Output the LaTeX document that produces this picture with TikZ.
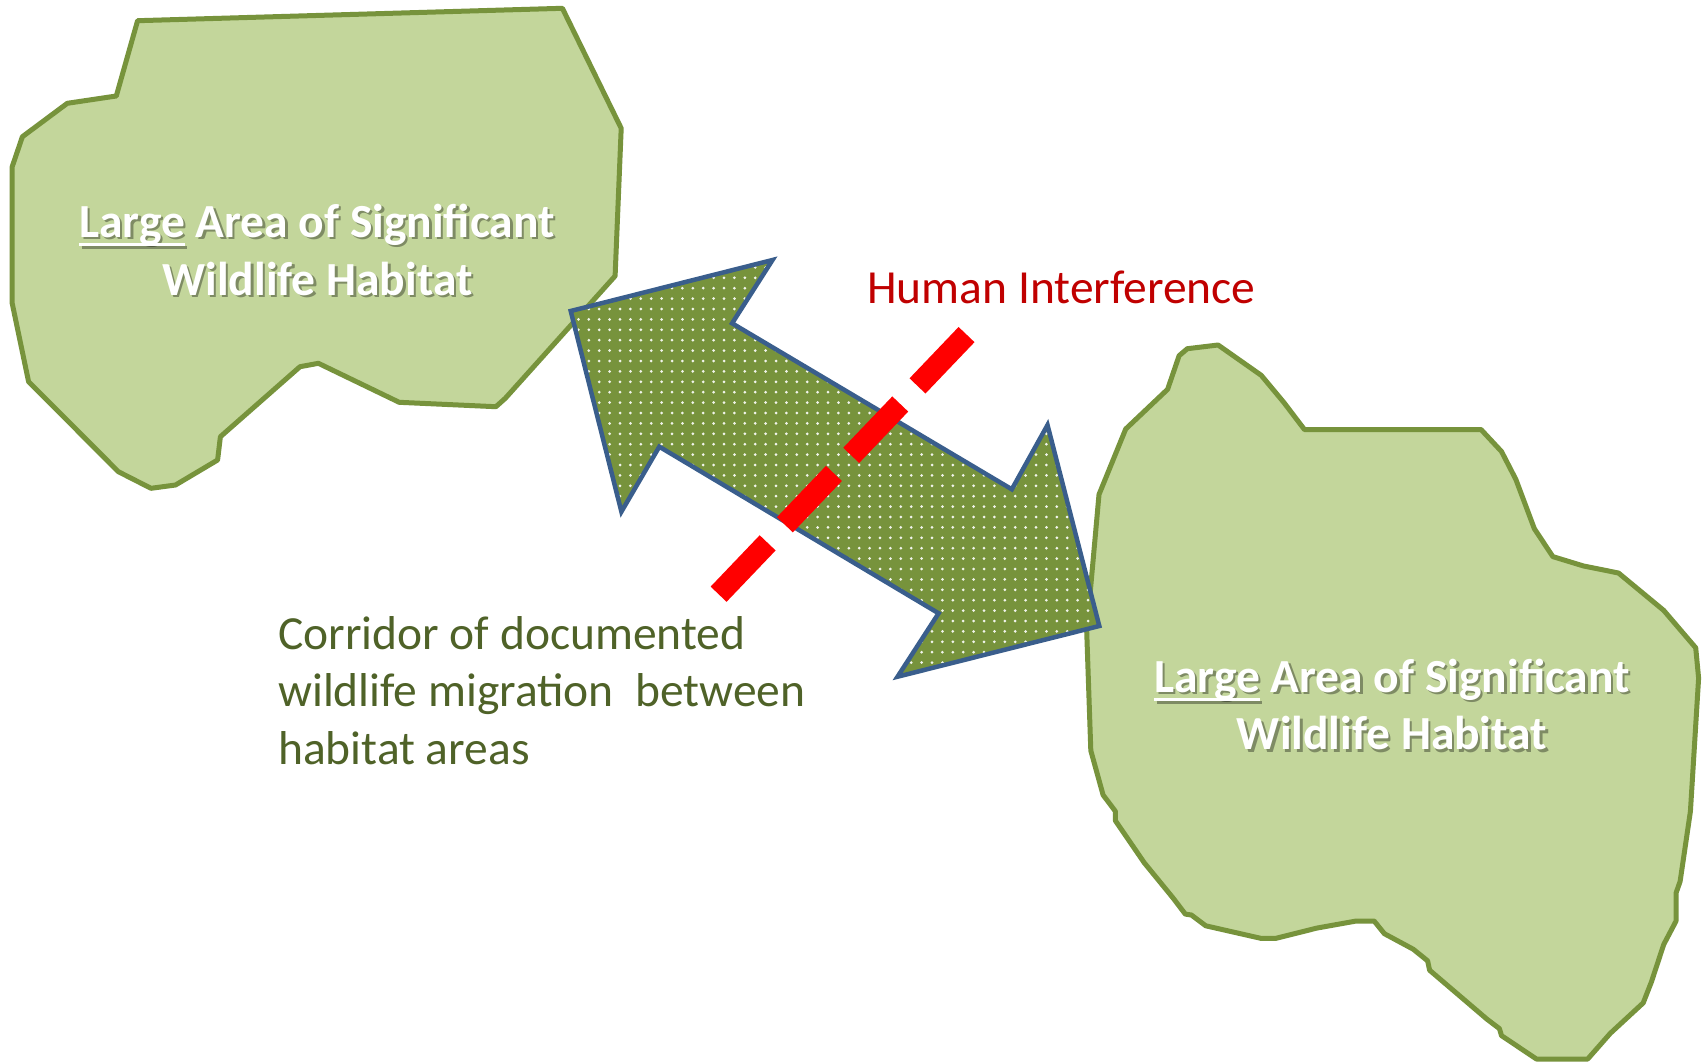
\documentclass[tikz,border=0pt]{standalone}
\usepackage{fontspec}
\setmainfont{Carlito}[BoldFont={Carlito Bold}]
\definecolor{habfill}{HTML}{C3D69B}
\definecolor{habline}{HTML}{77933C}
\definecolor{arrfill}{HTML}{77933C}
\definecolor{arrline}{HTML}{3A5E8C}
\definecolor{hired}{HTML}{C00000}
\definecolor{cortext}{HTML}{4F6228}
\definecolor{dashred}{HTML}{FF0000}
\newsavebox\ulbox
\newcommand\myul[1]{\sbox\ulbox{#1}\rlap{\rule[-9pt]{\wd\ulbox}{3pt}}\usebox\ulbox}
\tikzset{
  habitat/.style={fill=habfill, draw=habline, line width=5pt, line join=round},
  corridor/.style={draw=arrline, line width=4.5pt, line join=miter},
  dotmark/.style={fill=white, fill opacity=0.9},
  interf/.style={draw=dashred, line width=22pt, dash pattern=on 71pt off 25pt},
  bigtext/.style={inner sep=0pt, font=\fontsize{47.5}{57}\selectfont},
  habtext/.style={inner sep=0pt, anchor=base, text=white, font=\fontsize{47.5}{57}\selectfont\bfseries},
  habshadow/.style={habtext, text=black, text opacity=0.35},
  redtext/.style={bigtext, anchor=base west, text=hired},
  cortextstyle/.style={bigtext, anchor=base west, text=cortext}
}
\begin{document}
\begin{tikzpicture}[x=1pt, y=-1pt]
\useasboundingbox (0,0) rectangle (1704,1063);
\fill[white] (0,0) rectangle (1704,1063);

% left habitat
\draw[habitat] (137.6,20.7) -- (562.4,8.3) -- (621.2,128.3) -- (615.1,276) -- (505.3,398.3)
  -- (495.9,406.7) -- (399.2,402.3) -- (318.4,363.3) -- (300,366.7) -- (220.4,436.7)
  -- (217.6,460) -- (175.5,485) -- (151,488.3) -- (118.4,471.7) -- (28.6,381.7)
  -- (12.2,303.3) -- (12.2,166.7) -- (22.4,136.7) -- (67.3,103.3) -- (116.3,96) -- cycle;

% right habitat
\draw[habitat] (1218.1,345) -- (1187.3,348.7) -- (1179.1,355.7) -- (1167.6,389.3)
  -- (1125.7,429) -- (1099,494.5) -- (1086.7,631.4) -- (1090.8,750.6) -- (1103.1,795)
  -- (1115.4,811.3) -- (1115.4,820.7) -- (1144.2,862.7) -- (1172.9,897.8) -- (1185.3,914.1)
  -- (1191.4,915) -- (1205.8,925.8) -- (1261.2,938.4) -- (1275.6,938.4) -- (1316.7,928.1)
  -- (1355.7,921.1) -- (1374.2,921.1) -- (1384.4,933.7) -- (1413.2,949.2) -- (1427.6,960.8)
  -- (1429.6,970.2) -- (1487.1,1019.3) -- (1499.4,1028.6) -- (1501.5,1035.6) -- (1536.4,1059)
  -- (1587.7,1059) -- (1610.3,1033.3) -- (1643.2,1002.9) -- (1651.4,981.9) -- (1663.7,944.5)
  -- (1676,921.1) -- (1676,893.1) -- (1680.1,881.4) -- (1690.4,811.3) -- (1698.6,678.1)
  -- (1695.7,647.8) -- (1663.7,610.4) -- (1618.5,573) -- (1583.6,566) -- (1552.8,556.6)
  -- (1534.3,528.6) -- (1515.9,479.5) -- (1501.5,451.5) -- (1481,429.5) -- (1304.4,429.5)
  -- (1283.8,402.4) -- (1261.2,375.3) -- cycle;

% habitat labels
\node[habshadow] (lt1s) at (319.5,239.5) {\myul{Large} Area of Significant};
\node[habshadow] (lt2s) at (320,297.5) {Wildlife Habitat};
\node[habtext] (lt1) at (317,237) {\myul{Large} Area of Significant};
\node[habtext] (lt2) at (317.5,295) {Wildlife Habitat};
\node[habshadow] (rt1s) at (1394.5,694.5) {\myul{Large} Area of Significant};
\node[habshadow] (rt2s) at (1394.5,752) {Wildlife Habitat};
\node[habtext] (rt1) at (1392,692) {\myul{Large} Area of Significant};
\node[habtext] (rt2) at (1392,749.5) {Wildlife Habitat};

% corridor arrow
\coordinate (p1) at (570.7,311);
\coordinate (p2) at (772.5,260);
\coordinate (p3) at (732.1,323.3);
\coordinate (p4) at (1011.8,489.3);
\coordinate (p5) at (1047.5,425);
\coordinate (p6) at (1099.3,626);
\coordinate (p7) at (897.5,676.7);
\coordinate (p8) at (938.6,613.3);
\coordinate (p9) at (659.3,446.7);
\coordinate (p10) at (621.4,511.7);
\fill[arrfill] (p1) -- (p2) -- (p3) -- (p4) -- (p5) -- (p6) -- (p7) -- (p8) -- (p9) -- (p10) -- cycle;
\begin{scope}
\clip (p1) -- (p2) -- (p3) -- (p4) -- (p5) -- (p6) -- (p7) -- (p8) -- (p9) -- (p10) -- cycle;
\foreach \i in {0,...,52} {
  \foreach \j in {0,...,40} {
    \fill[dotmark] ({568+\i*10.4}, {257+\j*10.4}) circle [radius=1.5pt];
  }
}
\end{scope}
\draw[corridor] (p1) -- (p2) -- (p3) -- (p4) -- (p5) -- (p6) -- (p7) -- (p8) -- (p9) -- (p10) -- cycle;

% human interference line
\coordinate (h1) at (718.6,594.2);
\coordinate (h2) at (966.6,334.5);
\draw[interf] (h1) -- (h2);

% labels
\node[redtext] (hint) at (867,303.3) {Human Interference};
\node[cortextstyle] (c1) at (278,649.3) {Corridor of documented};
\node[cortextstyle] (c2) at (278,706.8) {wildlife migration\ \ between};
\node[cortextstyle] (c3) at (278,764.3) {habitat areas};
\end{tikzpicture}
\end{document}
